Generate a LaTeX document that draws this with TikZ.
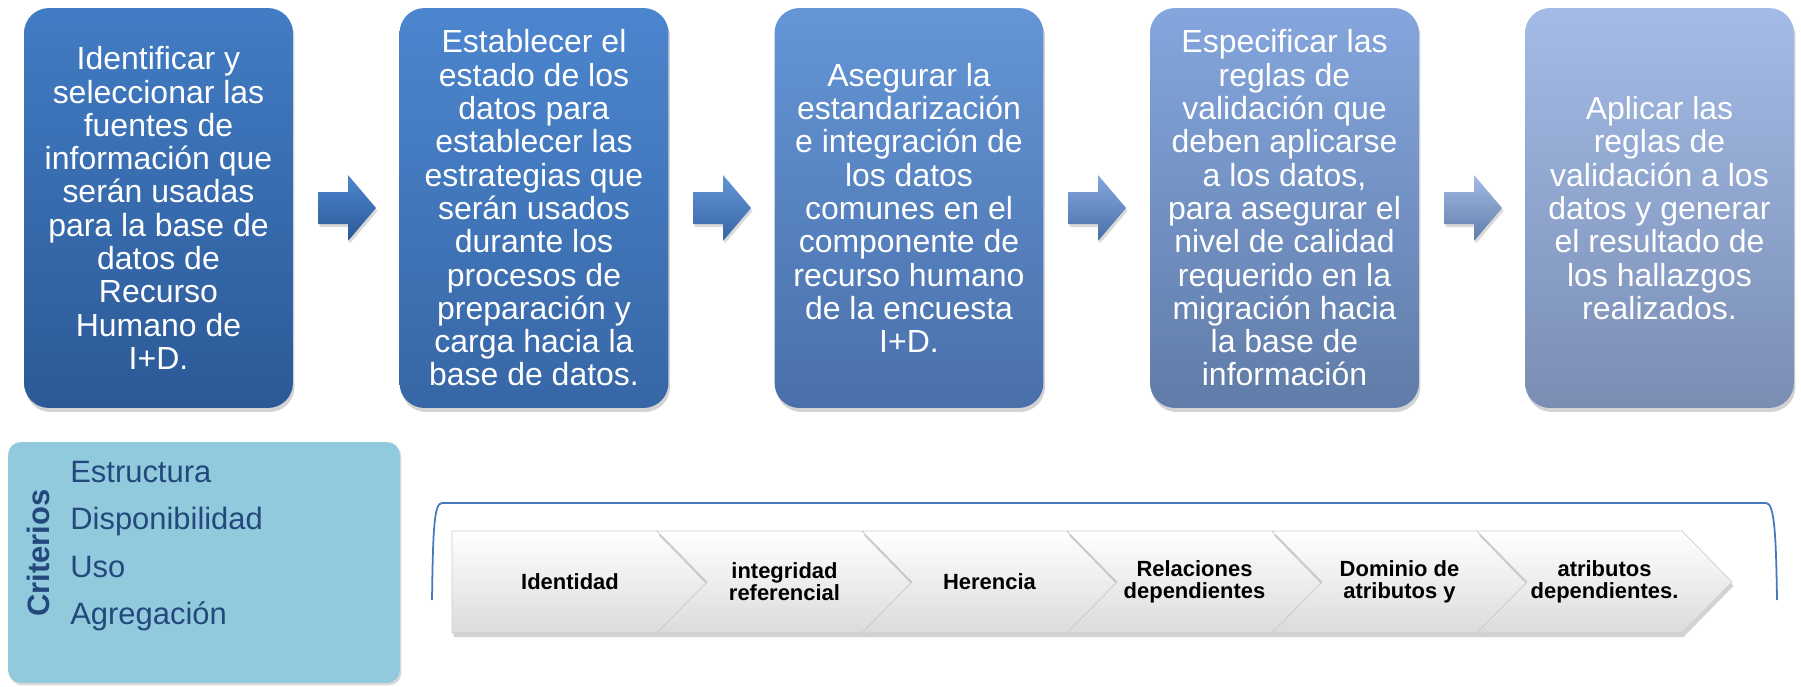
\documentclass[tikz,border=0pt]{standalone}
\usepackage{fontspec}
\setmainfont{Liberation Sans}
\usetikzlibrary{shadows}
\definecolor{bAtop}{RGB}{66,124,196}
\definecolor{bAbot}{RGB}{44,89,150}
\definecolor{bBtop}{RGB}{76,134,207}
\definecolor{bBbot}{RGB}{55,102,165}
\definecolor{bCtop}{RGB}{100,149,214}
\definecolor{bCbot}{RGB}{74,112,170}
\definecolor{bDtop}{RGB}{132,166,221}
\definecolor{bDbot}{RGB}{96,124,168}
\definecolor{bEtop}{RGB}{163,187,230}
\definecolor{bEbot}{RGB}{122,142,180}
\definecolor{critfill}{RGB}{146,202,221}
\definecolor{critblue}{RGB}{36,72,124}
\definecolor{bracketblue}{RGB}{70,120,190}
\begin{document}
\begin{tikzpicture}[x=0.02cm, y=-0.02cm,
	stepbox/.style={rounded corners=0.5cm, minimum width=5.38cm, minimum height=8cm, inner sep=0pt, align=center, text=white, font=\fontsize{18.2}{18.95}\selectfont, drop shadow={opacity=0.35, shadow xshift=0.03cm, shadow yshift=-0.08cm}},
	blockarrow/.style={drop shadow={opacity=0.3, shadow xshift=0.03cm, shadow yshift=-0.06cm}},
	chevron/.style={draw=gray!40, line width=0.4pt, top color=white, bottom color=gray!28, drop shadow={opacity=0.35, shadow xshift=0.03cm, shadow yshift=-0.08cm}},
	chevtext/.style={align=center, font=\bfseries\fontsize{12.5}{12.5}\selectfont},
	critem/.style={anchor=base west, inner sep=0pt, text=critblue, font=\fontsize{17.6}{20}\selectfont}]
	\useasboundingbox (0,0) rectangle (1801,686);
	% pasos
	\node[stepbox, top color=bAtop, bottom color=bAbot] (paso1) at (158.5,208) {Identificar y\\seleccionar las\\fuentes de\\información que\\serán usadas\\para la base de\\datos de\\Recurso\\Humano de\\I+D.};
	\node[stepbox, top color=bBtop, bottom color=bBbot] (paso2) at (534,208) {Establecer el\\estado de los\\datos para\\establecer las\\estrategias que\\serán usados\\durante los\\procesos de\\preparación y\\carga hacia la\\base de datos.};
	\node[stepbox, top color=bCtop, bottom color=bCbot] (paso3) at (909,208) {Asegurar la\\estandarización\\e integración de\\los datos\\comunes en el\\componente de\\recurso humano\\de la encuesta\\I+D.};
	\node[stepbox, top color=bDtop, bottom color=bDbot] (paso4) at (1284.5,208) {Especificar las\\reglas de\\validación que\\deben aplicarse\\a los datos,\\para asegurar el\\nivel de calidad\\requerido en la\\migración hacia\\la base de\\información};
	\node[stepbox, top color=bEtop, bottom color=bEbot] (paso5) at (1659.5,208) {Aplicar las\\reglas de\\validación a los\\datos y generar\\el resultado de\\los hallazgos\\realizados.};
	% flechas
	\foreach \x/\ca/\cb in {318/bBtop/bAbot, 693/bCtop/bBbot, 1068/bDtop/bCbot, 1444/bEtop/bDbot}
		\path[blockarrow, top color=\ca, bottom color=\cb] (\x,192) -- ({\x+30},192) -- ({\x+30},175) -- ({\x+58},208) -- ({\x+30},241) -- ({\x+30},224) -- (\x,224) -- cycle;
	% criterios
	\node[fill=critfill, rounded corners=0.26cm, minimum width=7.84cm, minimum height=4.82cm, drop shadow={opacity=0.3, shadow xshift=0.03cm, shadow yshift=-0.05cm}] (crit) at (204,562.5) {};
	\node[rotate=90, text=critblue, font=\bfseries\fontsize{17.6}{20}\selectfont] (crittitle) at (38,553) {Criterios};
	\foreach \t/\y [count=\k] in {Estructura/482, Disponibilidad/529, Uso/577, Agregación/624}
		\node[critem] (item\k) at (70,\y) {\t};
	% llave
	\draw[bracketblue, line width=1pt] (432,600) .. controls (433,530) and (434,503) .. (442,503) -- (1766,503) .. controls (1774,503) and (1776,530) .. (1777,600);
	% chevrones
	\path[chevron] (452,531) -- (657,531) -- (707,582) -- (657,633) -- (452,633) -- cycle;
	\foreach \i in {1,...,5}{
		\pgfmathsetmacro{\xa}{452+205*\i}
		\path[chevron] (\xa,531) -- ({\xa+205},531) -- ({\xa+255},582) -- ({\xa+205},633) -- (\xa,633) -- ({\xa+50},582) -- cycle;
	}
	\node[chevtext] (ch1) at (570,582) {Identidad};
	\node[chevtext] (ch2) at (784.5,582) {integridad\\referencial};
	\node[chevtext] (ch3) at (989.5,582) {Herencia};
	\node[chevtext] (ch4) at (1194.5,582) {Relaciones\\dependientes};
	\node[chevtext] (ch5) at (1399.5,582) {Dominio de\\atributos y};
	\node[chevtext] (ch6) at (1604.5,582) {atributos\\dependientes.};
\end{tikzpicture}
\end{document}
